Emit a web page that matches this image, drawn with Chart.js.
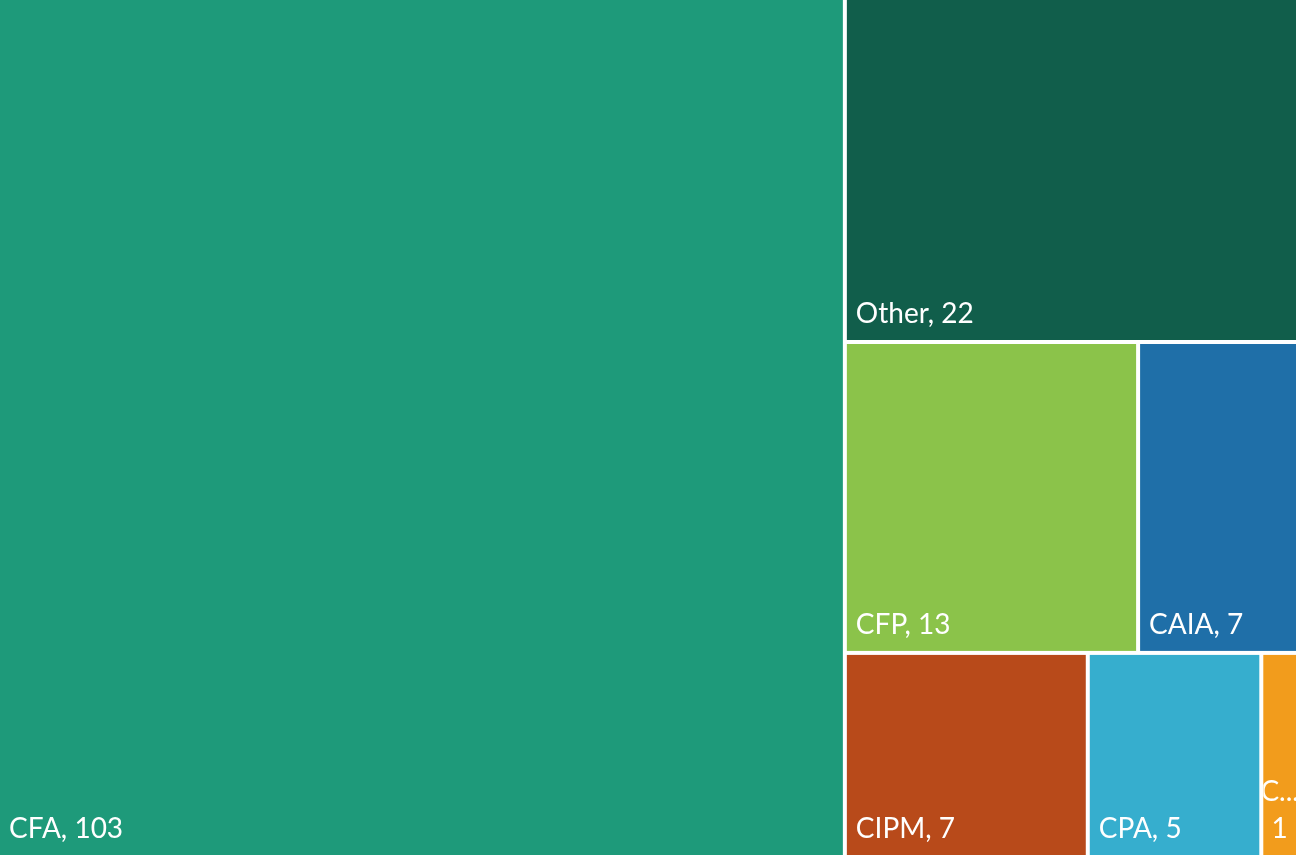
<!DOCTYPE html>
<html>
<head>
<meta charset="utf-8">
<script src="https://cdn.jsdelivr.net/npm/chart.js@4/dist/chart.umd.min.js"></script>
<style>
  html, body { margin: 0; padding: 0; background: #ffffff; }
  #wrap { width: 1296px; height: 855px; position: relative; }
</style>
</head>
<body>
<div id="wrap"><canvas id="c"></canvas></div>
<script>
// ---- Data ----
const categories = ['CFA', 'Other', 'CFP', 'CAIA', 'CIPM', 'CPA', 'CMT'];
const counts = [103, 22, 13, 7, 7, 5, 1];
const colors = ['#1E9A7A', '#115E4B', '#8BC34A', '#1F6FA8', '#B84A1A', '#36AECE', '#F29C1C'];

// ---- Squarified layout in normalized [0,1]x[0,1] space, with pixel aspect ratio ----
function worst(row, side) {
  const s = row.reduce((a, r) => a + r.area, 0);
  let w = 0;
  for (const r of row) {
    const len = r.area / s * side;
    const thick = s / side;
    w = Math.max(w, Math.max(len / thick, thick / len));
  }
  return w;
}
function squarify(values, W, H) {
  const total = values.reduce((a, b) => a + b, 0);
  const items = values.map((v, i) => ({ i, area: v / total * W * H }));
  const rects = [];
  let x = 0, y = 0, w = W, h = H;
  let idx = 0;
  while (idx < items.length) {
    const side = Math.min(w, h);
    let row = [items[idx]];
    idx++;
    while (idx < items.length) {
      const cand = row.concat([items[idx]]);
      if (worst(cand, side) <= worst(row, side)) { row = cand; idx++; } else break;
    }
    const s = row.reduce((a, r) => a + r.area, 0);
    if (w >= h) {
      // column on left, stacked vertically
      const cw = s / h;
      let cy = y;
      for (const r of row) { const rh = r.area / cw; rects[r.i] = { x0: x, y0: cy, x1: x + cw, y1: cy + rh }; cy += rh; }
      x += cw; w -= cw;
    } else {
      const rh = s / w;
      let cx = x;
      for (const r of row) { const rw = r.area / rh; rects[r.i] = { x0: cx, y0: y, x1: cx + rw, y1: y + rh }; cx += rw; }
      y += rh; h -= rh;
    }
  }
  return rects;
}

const treemapPlugin = {
  id: 'treemapDraw',
  beforeDatasetsDraw(chart) {
    const { ctx, chartArea, scales } = chart;
    const xs = scales.x, ys = scales.y;
    const W = chartArea.right - chartArea.left, H = chartArea.bottom - chartArea.top;
    // layout in value space: x in [0,1], y in [0,1]; use pixel aspect ratio for squareness
    const rectsPx = squarify(counts, W, H);
    const gap = 2;
    ctx.save();
    rectsPx.forEach((r, i) => {
      // convert layout to value space then map through the scales
      const vx0 = r.x0 / W, vx1 = r.x1 / W, vy0 = r.y0 / H, vy1 = r.y1 / H;
      let px0 = xs.getPixelForValue(vx0), px1 = xs.getPixelForValue(vx1);
      let py0 = ys.getPixelForValue(vy0), py1 = ys.getPixelForValue(vy1);
      if (vx0 > 1e-6) px0 += gap;
      if (vx1 < 1 - 1e-6) px1 -= gap;
      if (vy0 > 1e-6) py0 += gap;
      if (vy1 < 1 - 1e-6) py1 -= gap;
      ctx.fillStyle = colors[i];
      ctx.fillRect(px0, py0, px1 - px0, py1 - py0);

      // label
      ctx.fillStyle = '#ffffff';
      ctx.font = '28px Lato, "Open Sans", sans-serif';
      ctx.textBaseline = 'alphabetic';
      const full = categories[i] + ', ' + counts[i];
      const padL = 9, padB = 17;
      const bw = px1 - px0;
      if (ctx.measureText(full).width + padL * 2 <= bw) {
        ctx.textAlign = 'left';
        ctx.fillText(full, px0 + padL, py1 - padB);
      } else {
        ctx.save();
        ctx.beginPath();
        ctx.rect(px0, py0, bw, py1 - py0);
        ctx.clip();
        ctx.textAlign = 'center';
        const cx = (px0 + px1) / 2;
        let name = categories[i] + ',';
        if (ctx.measureText(name).width > bw - 4) name = categories[i].charAt(0) + '...';
        ctx.fillText(name, cx, py1 - padB - 37);
        ctx.fillText(String(counts[i]), cx, py1 - padB);
        ctx.restore();
      }
    });
    ctx.restore();
  }
};

new Chart(document.getElementById('c'), {
  type: 'scatter',
  data: { datasets: [{ label: 'Designations', data: [], pointRadius: 0 }] },
  options: {
    responsive: true,
    maintainAspectRatio: false,
    animation: false,
    layout: { padding: 0 },
    plugins: { legend: { display: false }, tooltip: { enabled: false } },
    scales: {
      x: { type: 'linear', min: 0, max: 1, display: false },
      y: { type: 'linear', min: 0, max: 1, reverse: true, display: false }
    }
  },
  plugins: [treemapPlugin]
});
</script>
</body>
</html>
